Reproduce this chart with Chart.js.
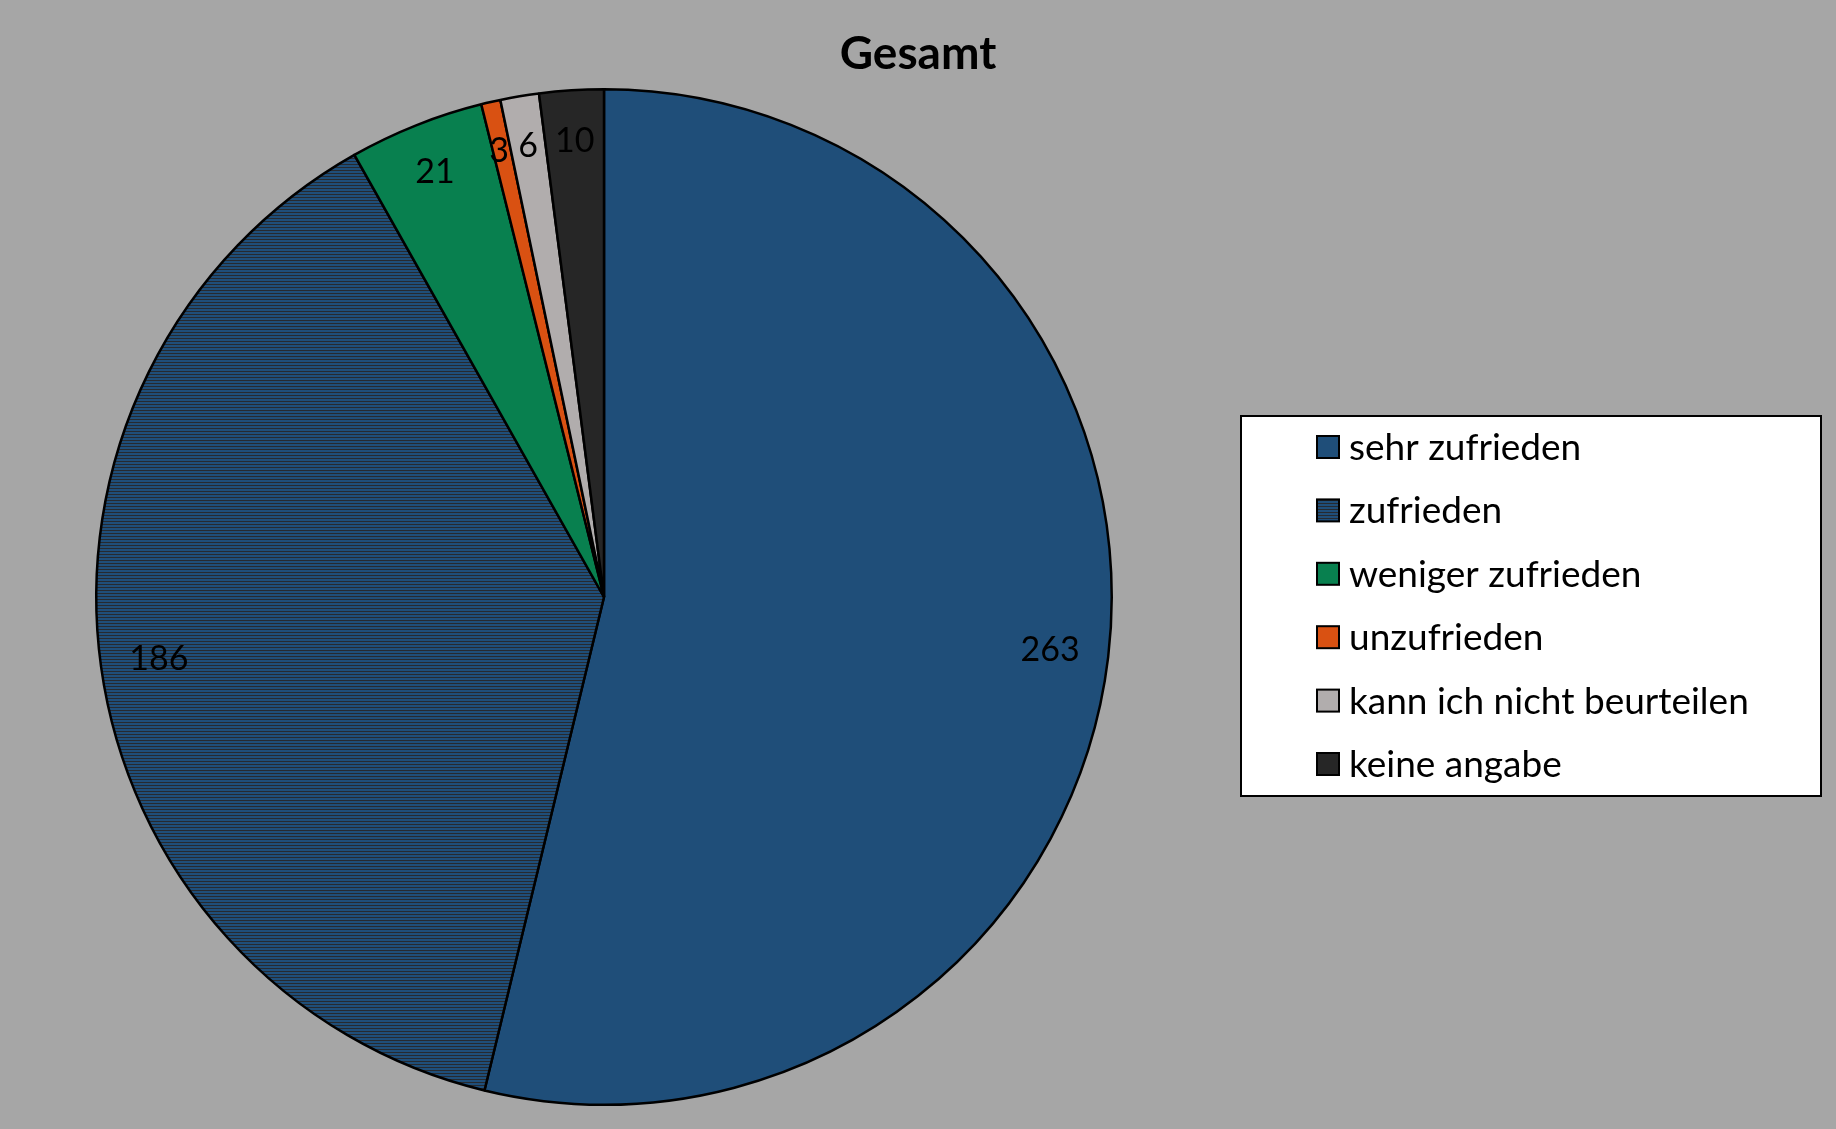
<!DOCTYPE html>
<html>
<head>
<meta charset="utf-8">
<script src="https://cdn.jsdelivr.net/npm/chart.js@4.4.1/dist/chart.umd.min.js"></script>
<style>
  html, body { margin: 0; padding: 0; background: #a6a6a6; }
  #wrap { position: relative; width: 1836px; height: 1129px; }
</style>
</head>
<body>
<div id="wrap"><canvas id="pie"></canvas></div>
<script>
const title = 'Gesamt';
const categories = ['sehr zufrieden', 'zufrieden', 'weniger zufrieden', 'unzufrieden', 'kann ich nicht beurteilen', 'keine angabe'];
const counts = [263, 186, 21, 3, 6, 10];
const sliceColors = ['#1f4e79', 'STRIPES', '#08804f', '#d95112', '#b1adad', '#262626'];

const FONT = 'Lato, "Noto Sans", sans-serif';

// horizontal stripes for "zufrieden"
function makeStripes() {
    const c = document.createElement('canvas');
    c.width = 4; c.height = 3;
    const g = c.getContext('2d');
    g.fillStyle = '#1f4e79';
    g.fillRect(0, 0, 4, 3);
    g.fillStyle = '#262a30';
    g.fillRect(0, 2, 4, 1);
    return g.createPattern(c, 'repeat');
}
const stripes = makeStripes();
const fills = sliceColors.map(c => c === 'STRIPES' ? stripes : c);

const titlePlugin = {
    id: 'titlePlugin',
    afterDraw(chart) {
        const ctx = chart.ctx;
        ctx.save();
        ctx.font = 'bold 46px ' + FONT;
        ctx.fillStyle = '#000';
        ctx.textAlign = 'center';
        ctx.textBaseline = 'middle';
        ctx.fillText(title, 918, 54);
        ctx.restore();
    }
};

const valueLabels = {
    id: 'valueLabels',
    afterDatasetsDraw(chart) {
        const ctx = chart.ctx;
        const meta = chart.getDatasetMeta(0);
        ctx.save();
        ctx.font = '34px ' + FONT;
        ctx.textAlign = 'center';
        ctx.textBaseline = 'middle';
        ctx.fillStyle = '#000';
        meta.data.forEach((arc, i) => {
            const p = arc.getProps(['x', 'y', 'startAngle', 'endAngle', 'outerRadius'], true);
            const mid = (p.startAngle + p.endAngle) / 2;
            const r = p.outerRadius * (counts[i] < 30 ? 0.9 : 0.885);
            ctx.fillText(String(chart.data.datasets[0].data[i]), p.x + Math.cos(mid) * r - (counts[i] < 5 ? 3 : 0), p.y + Math.sin(mid) * r);
        });
        ctx.restore();
    }
};

const legendBox = {
    id: 'legendBox',
    afterDraw(chart) {
        const ctx = chart.ctx;
        const box = { x: 1241, y: 416, w: 580, h: 380 };
        ctx.save();
        ctx.fillStyle = '#fff';
        ctx.fillRect(box.x, box.y, box.w, box.h);
        ctx.strokeStyle = '#000';
        ctx.lineWidth = 2;
        ctx.strokeRect(box.x, box.y, box.w, box.h);
        ctx.font = '37px ' + FONT;
        ctx.textBaseline = 'middle';
        ctx.textAlign = 'left';
        const rowH = 63.4;
        chart.data.labels.forEach((lab, i) => {
            const cy = 447 + i * rowH;
            ctx.fillStyle = chart.data.datasets[0].backgroundColor[i];
            ctx.fillRect(1317, cy - 11, 22, 22);
            ctx.lineWidth = 2;
            ctx.strokeStyle = '#000';
            ctx.strokeRect(1317, cy - 11, 22, 22);
            ctx.fillStyle = '#000';
            ctx.fillText(lab, 1349, cy + 1);
        });
        ctx.restore();
    }
};

new Chart(document.getElementById('pie'), {
    type: 'pie',
    data: {
        labels: categories,
        datasets: [{
            data: counts,
            backgroundColor: fills,
            borderColor: '#000',
            borderWidth: 2.5
        }]
    },
    options: {
        responsive: true,
        maintainAspectRatio: false,
        animation: false,
        events: [],
        layout: { padding: { left: 95, right: 723, top: 88, bottom: 23 } },
        plugins: {
            legend: { display: false },
            tooltip: { enabled: false },
            title: { display: false }
        }
    },
    plugins: [valueLabels, titlePlugin, legendBox]
});
</script>
</body>
</html>
